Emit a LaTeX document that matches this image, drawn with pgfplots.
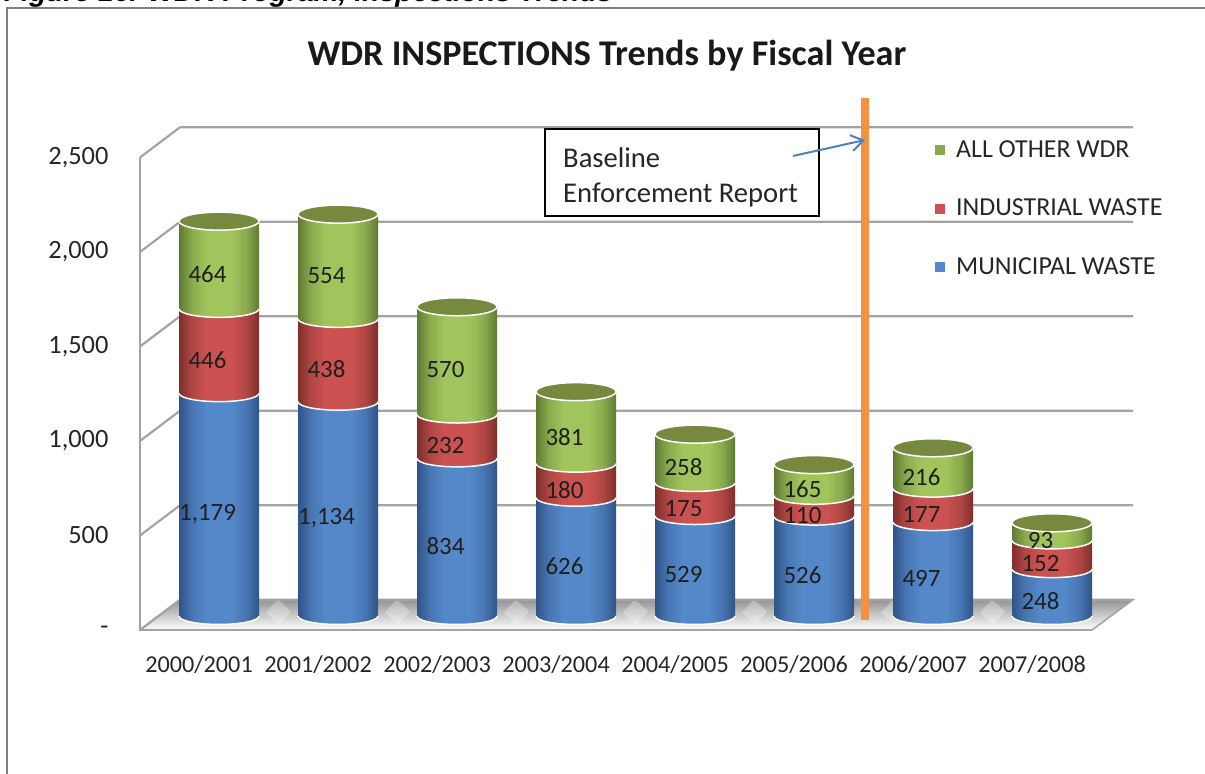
\documentclass[border=0pt]{standalone}
\usepackage{pgfplots}
\usepackage{pgfplotstable}
\usepackage{fontspec}
\setmainfont{Carlito}
\newfontfamily\capfont{Liberation Sans}
\pgfplotsset{compat=1.18}
\usetikzlibrary{arrows.meta}
\definecolor{bE}{HTML}{2F5488}\definecolor{bM}{HTML}{5488C8}
\definecolor{rE}{HTML}{7E2F2C}\definecolor{rM}{HTML}{CB5250}
\definecolor{gE}{HTML}{5F7A32}\definecolor{gM}{HTML}{A2C45C}
\definecolor{gT}{HTML}{76893F}\definecolor{fr}{HTML}{A3A3A3}
\definecolor{org}{HTML}{F6923F}\definecolor{arr}{HTML}{4F81BD}
\pgfdeclarehorizontalshading{cylsB}{100bp}{color(0bp)=(bE);color(25bp)=(bE);color(33bp)=(bE!35!bM);color(42bp)=(bM);color(58bp)=(bM);color(67bp)=(bE!35!bM);color(75bp)=(bE);color(100bp)=(bE)}
\pgfdeclarehorizontalshading{cylsR}{100bp}{color(0bp)=(rE);color(25bp)=(rE);color(33bp)=(rE!35!rM);color(42bp)=(rM);color(58bp)=(rM);color(67bp)=(rE!35!rM);color(75bp)=(rE);color(100bp)=(rE)}
\pgfdeclarehorizontalshading{cylsG}{100bp}{color(0bp)=(gE);color(25bp)=(gE);color(33bp)=(gE!35!gM);color(42bp)=(gM);color(58bp)=(gM);color(67bp)=(gE!35!gM);color(75bp)=(gE);color(100bp)=(gE)}
% one cylinder segment: base on the data point, height from the data
\newcommand\segmark[2]{%
 \pgfdeclareplotmark{#1}{%
  \path[draw=none,shading=#2,shading angle=0] (-40bp,0bp) rectangle (40bp,{\rawh*0.189*1bp});
  \begin{scope}[rotate=5]
  \path[draw=none,shading=#2,shading angle=0] (0bp,0bp) ellipse (40bp and 8.5bp);
  \draw[draw=white,line width=1.5bp] (40bp,0bp) arc[start angle=0,end angle=-180,x radius=40bp,y radius=8.5bp];
  \end{scope}
 }}
\segmark{segB}{cylsB}
\segmark{segR}{cylsR}
\segmark{segG}{cylsG}
\pgfdeclareplotmark{cylT}{\path[draw=white,line width=1.5bp,fill=gT,rotate=5] (0bp,0bp) ellipse (40bp and 9bp);}
\pgfplotstableread{
x mun ind oth c0 c1 c2 c3
0 1179 446 464 0 1179 1625 2089
1 1134 438 554 0 1134 1572 2126
2 834 232 570 0 834 1066 1636
3 626 180 381 0 626 806 1187
4 529 175 258 0 529 704 962
5 526 110 165 0 526 636 801
6 497 177 216 0 497 674 890
7 248 152 93 0 248 400 493
}\data
\begin{document}
\begin{tikzpicture}[x=1bp,y=1bp]
\path[use as bounding box,clip] (0,0) rectangle (1205,774);
\draw[color=gray,line width=2bp] (6.5,0) -- (6.5,766) -- (1205,766);
\node[anchor=base west,inner sep=0pt,font=\capfont\bfseries\itshape\fontsize{28.3}{32}\selectfont] at (4,772) {Figure 16. WDR Program, Inspections Trends};
\node[font=\bfseries\fontsize{36.3}{40}\selectfont,text=black!90] at (607,718) {WDR INSPECTIONS Trends by Fiscal Year};
% frame axis
\begin{axis}[
  at={(140bp,144bp)},anchor=south west,scale only axis,width=952bp,height=472.5bp,
  xmin=-0.6639,xmax=7.3361,ymin=0,ymax=2500,clip=false,
  axis x line=bottom,axis y line=left,
  axis line style={-,draw=fr,line width=2.2bp},
  major tick length=0pt,
  xtick={0,...,7},
  xticklabels={2000/2001,2001/2002,2002/2003,2003/2004,2004/2005,2005/2006,2006/2007,2007/2008},
  ytick={0,500,1000,1500,2000,2500},
  yticklabels={-,500,{1,000},{1,500},{2,000},{2,500}},
  yticklabel style={xshift=-28bp,font=\fontsize{26.5}{28}\selectfont,text=black!85},
  xticklabel style={xshift=-20bp,yshift=-22bp,font=\fontsize{24.3}{26}\selectfont,text=black!85},
  legend style={at={(0.835,1.04)},anchor=north west,draw=none,fill=none,
     font=\fontsize{26}{29}\selectfont,row sep=36bp,inner sep=0pt,text=black!85},
  legend cell align=left,
]
\addlegendimage{only marks,mark=square*,mark size=4.5bp,color=gM!85!black}\addlegendentry{\hspace{10bp}ALL OTHER WDR}
\addlegendimage{only marks,mark=square*,mark size=4.5bp,color=rM}\addlegendentry{\hspace{10bp}INDUSTRIAL WASTE}
\addlegendimage{only marks,mark=square*,mark size=4.5bp,color=bM}\addlegendentry{\hspace{10bp}MUNICIPAL WASTE}
% floor
\addplot[forget plot,draw=fr,line width=1.5bp,top color=black!42,bottom color=white,mark=none] coordinates {(-0.6639,0) (-0.3277,160) (7.6807,160) (7.3361,0)} -- cycle;
\addplot[forget plot,draw=white,opacity=0.3,line width=18bp,mark=none,unbounded coords=jump] coordinates {
 (0.55,130)(0.45,60) (nan,nan)
 (1.55,130)(1.45,60) (nan,nan)
 (2.55,130)(2.45,60) (nan,nan)
 (3.55,130)(3.45,60) (nan,nan)
 (4.55,130)(4.45,60) (nan,nan)
 (5.72,130)(5.62,60) (nan,nan)
 (6.55,130)(6.45,60) (nan,nan)};
% back grid and side wall
\addplot[forget plot,draw=fr,line width=2.2bp,mark=none,unbounded coords=jump] coordinates {
 (-0.3277,160)(7.6807,160)(nan,nan)
 (-0.3277,660)(7.6807,660)(nan,nan)
 (-0.3277,1160)(7.6807,1160)(nan,nan)
 (-0.3277,1660)(7.6807,1660)(nan,nan)
 (-0.3277,2160)(7.6807,2160)(nan,nan)
 (-0.3277,2660)(7.6807,2660)(nan,nan)
 (-0.6639,500)(-0.3277,660)(nan,nan)
 (-0.6639,1000)(-0.3277,1160)(nan,nan)
 (-0.6639,1500)(-0.3277,1660)(nan,nan)
 (-0.6639,2000)(-0.3277,2160)(nan,nan)
 (-0.6639,2500)(-0.3277,2660)(nan,nan)
 (-0.6639,0)(-0.3277,160)};
% baseline marker
\addplot[forget plot,draw=org,line width=7.5bp,mark=none] coordinates {(5.4286,53)(5.4286,2815)};
\end{axis}
% cylinders
\begin{axis}[
  at={(140bp,158bp)},anchor=south west,scale only axis,width=952bp,height=472.5bp,
  xmin=-0.6639,xmax=7.3361,ymin=0,ymax=2500,clip=false,hide axis,
  scatter/use mapped color={draw=none,fill=none},
  nodes near coords style={anchor=center,font=\fontsize{25}{28}\selectfont,text=black!88,
     /pgf/number format/1000 sep={,},/pgf/number format/assume math mode=true,
     xshift=-11.5bp,yshift={(\rawh*0.0945-9)*1bp},inner sep=0pt},
]
\addplot[only marks,scatter,scatter src=y,mark=segB,visualization depends on={\thisrow{mun}\as\rawh}] table[x=x,y=c0]{\data};
\addplot[only marks,scatter,scatter src=y,mark=segR,visualization depends on={\thisrow{ind}\as\rawh}] table[x=x,y=c1]{\data};
\addplot[only marks,scatter,scatter src=y,mark=segG,visualization depends on={\thisrow{oth}\as\rawh}] table[x=x,y=c2]{\data};
\addplot[only marks,mark=cylT] table[x=x,y=c3]{\data};
\addplot[only marks,mark=none,nodes near coords,point meta=explicit,visualization depends on={\thisrow{mun}\as\rawh}] table[x=x,y=c0,meta=mun]{\data};
\addplot[only marks,mark=none,nodes near coords,point meta=explicit,visualization depends on={\thisrow{ind}\as\rawh}] table[x=x,y=c1,meta=ind]{\data};
\addplot[only marks,mark=none,nodes near coords,point meta=explicit,visualization depends on={\thisrow{oth}\as\rawh}] table[x=x,y=c2,meta=oth]{\data};
\end{axis}
% annotation
\node[draw=black,line width=2bp,fill=white,minimum width=274bp,minimum height=87bp,anchor=south west,inner sep=0pt] at (544,557) {};
\node[anchor=west,inner sep=0pt,font=\fontsize{28.7}{30}\selectfont,text=black!85] at (563,616) {Baseline};
\node[anchor=west,inner sep=0pt,font=\fontsize{28.7}{30}\selectfont,text=black!85] at (563,579) {Enforcement Report};
\draw[color=arr,line width=2bp,-{Straight Barb[length=12bp,width=16bp]}] (793,618) -- (865,634);
\end{tikzpicture}
\end{document}
